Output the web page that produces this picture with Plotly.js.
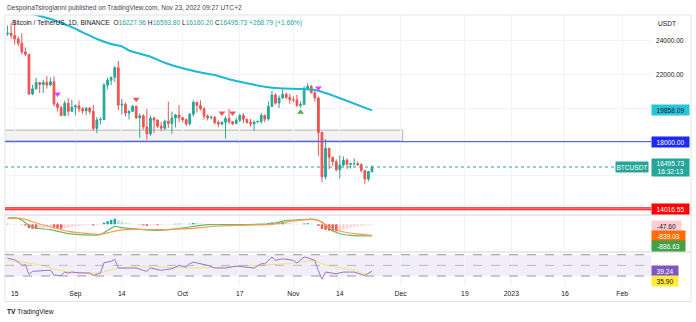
<!DOCTYPE html>
<html><head><meta charset="utf-8">
<script src="https://cdn.plot.ly/plotly-3.0.1.min.js"></script>
<style>html,body{margin:0;padding:0;background:#fff;overflow:hidden}#chart{width:696px;height:322px}</style>
</head><body><div id="chart"></div>
<script>
// ---------- DATA ----------
const dates = ["2022-08-13","2022-08-14","2022-08-15","2022-08-16","2022-08-17","2022-08-18","2022-08-19","2022-08-20","2022-08-21","2022-08-22","2022-08-23","2022-08-24","2022-08-25","2022-08-26","2022-08-27","2022-08-28","2022-08-29","2022-08-30","2022-08-31",
"2022-09-01","2022-09-02","2022-09-03","2022-09-04","2022-09-05","2022-09-06","2022-09-07","2022-09-08","2022-09-09","2022-09-10","2022-09-11","2022-09-12","2022-09-13","2022-09-14","2022-09-15","2022-09-16","2022-09-17","2022-09-18","2022-09-19","2022-09-20","2022-09-21","2022-09-22","2022-09-23","2022-09-24","2022-09-25","2022-09-26","2022-09-27","2022-09-28","2022-09-29","2022-09-30",
"2022-10-01","2022-10-02","2022-10-03","2022-10-04","2022-10-05","2022-10-06","2022-10-07","2022-10-08","2022-10-09","2022-10-10","2022-10-11","2022-10-12","2022-10-13","2022-10-14","2022-10-15","2022-10-16","2022-10-17","2022-10-18","2022-10-19","2022-10-20","2022-10-21","2022-10-22","2022-10-23","2022-10-24","2022-10-25","2022-10-26","2022-10-27","2022-10-28","2022-10-29","2022-10-30","2022-10-31",
"2022-11-01","2022-11-02","2022-11-03","2022-11-04","2022-11-05","2022-11-06","2022-11-07","2022-11-08","2022-11-09","2022-11-10","2022-11-11","2022-11-12","2022-11-13","2022-11-14","2022-11-15","2022-11-16","2022-11-17","2022-11-18","2022-11-19","2022-11-20","2022-11-21","2022-11-22","2022-11-23"];
const openP = [24401,24442,24306,24100,23855,23336,23192,20835,21140,21516,21399,21529,21368,21559,20241,20037,19555,20285,19811,
20050,20131,19951,19831,20000,19797,18790,19292,19319,21361,21648,21826,22396,20173,20226,19701,19803,20113,19416,19537,18875,18461,19401,19289,18920,18802,19222,19079,19412,19591,
19422,19310,19056,19629,20337,20158,19955,19531,19417,19446,19141,19051,19157,19382,19185,19067,19268,19550,19334,19139,19053,19172,19207,19567,19345,20095,20771,20295,20595,20818,20635,
20495,20485,20159,20209,21148,21299,20905,20591,18547,15922,17601,17070,16812,16330,16619,16900,16662,16692,16700,16634,16296,15781,16227.96];
const highP = [24888,25047,25211,24247,24446,23600,23208,21382,21800,21548,21684,21900,21819,21886,20342,20142,20433,20580,20490,
20208,20444,20055,20029,20057,20180,19464,19458,21500,21810,21860,22488,22799,20545,20330,19896,20189,20117,19686,19634,19956,19550,19500,19316,19180,19315,20385,19790,19645,20185,
19484,19395,19719,20475,20365,20456,20055,19627,19560,19525,19268,19214,19513,19951,19226,19424,19676,19706,19360,19346,19250,19249,19695,19601,20400,21020,20877,20750,21085,20938,20840,
20700,20800,20394,21302,21480,21365,21069,20667,18600,18155,17655,17093,16950,17190,17134,17015,16751,17011,16820,16725,16300,16253,16593.80];
const lowP = [24290,24140,23773,23671,23180,23100,20783,20761,21105,20890,20890,21155,21310,20107,19800,19521,19550,19540,19797,
19565,19755,19652,19600,19636,18650,18510,19012,19297,21111,21350,21538,19860,19617,19497,19320,19748,19335,18232,18711,18125,18356,18531,18805,18629,18680,18816,18471,18843,19155,
19159,18920,18959,19490,19730,19854,19320,19255,19320,19021,18860,18965,18190,19070,18975,19063,19160,19097,19070,18900,18650,19133,19068,19157,19240,20063,20200,20000,20552,20518,20250,
20330,20048,20032,20180,21080,20880,20384,17166,15588,15754,16361,16549,16229,15815,16527,16378,16410,16546,16550,16180,15476,15640,16160.20];
const closeP = [24442,24306,24100,23855,23336,23192,20835,21140,21516,21399,21529,21368,21559,20241,20037,19555,20285,19811,20050,
20131,19951,19831,20000,19797,18790,19292,19319,21361,21648,21826,22396,20173,20226,19701,19803,20113,19416,19537,18875,18461,19401,19289,18920,18802,19222,19079,19412,19591,19422,
19310,19056,19629,20337,20158,19955,19531,19417,19446,19141,19051,19157,19382,19185,19067,19268,19550,19334,19139,19053,19172,19207,19567,19345,20095,20771,20295,20595,20818,20635,20495,
20485,20159,20209,21148,21299,20905,20591,18547,15922,17601,17070,16812,16330,16619,16900,16662,16692,16700,16634,16296,15781,16227.96,16495.73];

// moving average line
const maDates = ["2022-08-13","2022-08-20","2022-08-25","2022-08-30","2022-09-03","2022-09-07","2022-09-11","2022-09-14","2022-09-16","2022-09-22","2022-09-26","2022-09-30","2022-10-05","2022-10-10","2022-10-14","2022-10-19","2022-10-24","2022-10-28","2022-11-04","2022-11-08","2022-11-23"];
const maVals = [26050,25588,25291,24892,24500,24102,23805,23668,23419,23050,22694,22420,22159,21963,21707,21470,21268,21173,21131,21030,19858.09];

// signal markers
const sellDates = ["2022-09-18","2022-10-12","2022-10-15"];
const sellVals = [20519,19705,19705];
const buyDates = ["2022-11-03"];
const buyVals = [19747];
const pinkDates = ["2022-08-27","2022-11-08"];
const pinkVals = [20834,21190];

// levels
const zoneLow = 18060, zoneHigh = 18690, zoneEnd = "2022-12-01 14:00";
const level18k = 18000;
const level14k = 14016.55;
const lastPrice = 16495.73;
const countdown = "16:32:13";

// MACD
const macdDates = ["2022-08-13","2022-08-15","2022-08-17","2022-08-19","2022-08-21","2022-08-25","2022-08-30","2022-09-02","2022-09-08","2022-09-10","2022-09-12","2022-09-14","2022-09-19","2022-09-24","2022-09-28","2022-10-03","2022-10-08","2022-10-17","2022-10-26","2022-10-30","2022-11-03","2022-11-07","2022-11-09","2022-11-11","2022-11-14","2022-11-17","2022-11-23"];
const macdVals = [477,500,303,-76,-280,-409,-712,-788,-788,-455,-152,-258,-379,-455,-379,-205,-30,-30,45,303,348,379,174,-333,-712,-833,-886.63];
const signalDates = ["2022-08-13","2022-08-16","2022-08-18","2022-08-21","2022-08-25","2022-08-30","2022-09-03","2022-09-08","2022-09-11","2022-09-14","2022-09-18","2022-09-24","2022-09-28","2022-10-03","2022-10-11","2022-10-17","2022-10-26","2022-10-31","2022-11-06","2022-11-08","2022-11-11","2022-11-14","2022-11-18","2022-11-23"];
const signalVals = [440,470,379,98,-205,-530,-659,-758,-583,-420,-380,-409,-380,-333,-129,-76,0,227,379,290,-205,-508,-712,-839.03];
const histVals = [40,30,25,10,-30,-90,-280,-340,-360,-330,-290,-250,-200,-250,-300,-340,-290,-250,-200,
-160,-130,-100,-70,-50,-90,-70,-30,130,240,330,420,300,200,120,70,40,-10,-30,-80,-120,-80,-70,-70,-60,-40,-30,15,40,50,
45,30,50,100,90,60,30,10,-10,-30,-45,-40,-25,-25,-20,-10,20,15,5,-5,10,20,40,35,90,150,140,145,155,120,90,
60,30,20,60,80,50,20,-120,-350,-420,-480,-520,-540,-470,-380,-300,-240,-190,-150,-115,-100,-70,-47.60];

// RSI
const rsiDates = ["2022-08-13","2022-08-15","2022-08-16","2022-08-17","2022-08-18","2022-08-19","2022-08-20","2022-08-22","2022-08-24","2022-08-25","2022-08-26","2022-08-28","2022-08-29","2022-08-30","2022-08-31","2022-09-02","2022-09-05","2022-09-06","2022-09-08","2022-09-09","2022-09-11","2022-09-12","2022-09-13","2022-09-15","2022-09-16","2022-09-18","2022-09-20","2022-09-21","2022-09-22","2022-09-25","2022-09-28","2022-09-30","2022-10-02","2022-10-03","2022-10-04","2022-10-06","2022-10-08","2022-10-10","2022-10-13","2022-10-16","2022-10-21","2022-10-23","2022-10-24","2022-10-26","2022-10-27","2022-10-29","2022-11-01","2022-11-02","2022-11-04","2022-11-05","2022-11-07","2022-11-08","2022-11-09","2022-11-10","2022-11-12","2022-11-13","2022-11-15","2022-11-18","2022-11-20","2022-11-21","2022-11-23"];
const rsiVals = [63.7,60.5,56,50,51,33,38.7,39.3,40.6,41,31.5,31,37.4,35.6,37.4,36,35.6,31,35.6,55,57.5,61.2,45,45,43.7,45,40.6,38.7,45,40.6,43.7,50,46.8,53,56,53,50,45,45,48.7,45,53,53,65.6,59.4,62.4,59.4,54.3,65.6,64.3,59.4,40,24,37.4,36,34.2,37.4,37.4,33,31,39.24];
const rsiMaDates = ["2022-08-13","2022-08-17","2022-08-22","2022-08-26","2022-08-30","2022-09-03","2022-09-08","2022-09-12","2022-09-17","2022-09-25","2022-10-03","2022-10-12","2022-10-22","2022-10-30","2022-11-03","2022-11-07","2022-11-09","2022-11-13","2022-11-18","2022-11-21","2022-11-23"];
const rsiMaVals = [59.4,56,51,43.6,37.4,35.6,36,43.6,46.8,46.8,45,46.8,50,53,56,59.4,53,46.8,40.6,34.2,35.9];

// axis ticks
const xTickVals = ["2022-08-15","2022-09-01","2022-09-14","2022-10-01","2022-10-17","2022-11-01","2022-11-14","2022-12-01","2022-12-19","2023-01-01","2023-01-16","2023-02-01"];
const xTickText = ["15","Sep","14","Oct","17","Nov","14","Dec","19","2023","16","Feb"];
const yTickVals = [14000,16000,18000,20000,22000,24000];
const yTickText = ["","","","","22000.00","24000.00"];

// ---------- LAYOUT HELPERS (pixel -> paper) ----------
const PL=5, PR=651, PT=15, PB=286;
const px = v => (v-PL)/(PR-PL);
const py = v => (PB-v)/(PB-PT);
const FONT = "Liberation Sans, Arial, sans-serif";
const TXT = "#131722";
const UP="#26a69a", DN="#ef5350";

const histColors = histVals.map((v,i)=>{
  const p = i>0 ? histVals[i-1] : v;
  if (v>=0) return v>=p ? "#26a69a" : "#b2dfdb";
  return v<=p ? "#ff5252" : "#ffcdd2";
});

const traces = [
  {type:"candlestick", x:dates, open:openP, high:highP, low:lowP, close:closeP, xaxis:"x", yaxis:"y",
   increasing:{line:{color:UP,width:1}, fillcolor:UP}, decreasing:{line:{color:DN,width:1}, fillcolor:DN},
   whiskerwidth:0, hoverinfo:"skip"},
  {type:"scatter", mode:"lines", x:maDates, y:maVals, line:{color:"#1cb8d6", width:2, shape:"spline", smoothing:0.6}, yaxis:"y", hoverinfo:"skip"},
  {type:"scatter", mode:"markers", x:sellDates, y:sellVals, marker:{symbol:"triangle-down", size:6, color:"#f7525f"}, yaxis:"y", hoverinfo:"skip"},
  {type:"scatter", mode:"markers", x:buyDates, y:buyVals, marker:{symbol:"triangle-up", size:6, color:"#4caf50"}, yaxis:"y", hoverinfo:"skip"},
  {type:"scatter", mode:"markers", x:pinkDates, y:pinkVals, marker:{symbol:"triangle-down", size:6, color:"#e040fb"}, yaxis:"y", hoverinfo:"skip"},
  {type:"bar", x:dates, y:histVals, marker:{color:histColors, line:{width:0}}, yaxis:"y2", hoverinfo:"skip"},
  {type:"scatter", mode:"lines", x:macdDates, y:macdVals, line:{color:"#66bb6a", width:1.2, shape:"spline", smoothing:0.5}, yaxis:"y2", hoverinfo:"skip"},
  {type:"scatter", mode:"lines", x:signalDates, y:signalVals, line:{color:"#ff9a4d", width:1.2, shape:"spline", smoothing:0.5}, yaxis:"y2", hoverinfo:"skip"},
  {type:"scatter", mode:"lines", x:rsiMaDates, y:rsiMaVals, line:{color:"#f3e26a", width:1, shape:"spline", smoothing:0.5}, yaxis:"y3", hoverinfo:"skip"},
  {type:"scatter", mode:"lines", x:rsiDates, y:rsiVals, line:{color:"#9575cd", width:1}, yaxis:"y3", hoverinfo:"skip"}
];

const shapes = [
  // frame
  {type:"rect", xref:"paper", yref:"paper", x0:0, x1:px(691), y0:py(301.5), y1:1, line:{color:"#e0e3eb", width:1}, layer:"above"},
  {type:"line", xref:"paper", yref:"paper", x0:0, x1:px(691), y0:py(215), y1:py(215), line:{color:"#e0e3eb", width:1.5}},
  {type:"line", xref:"paper", yref:"paper", x0:0, x1:px(691), y0:py(252), y1:py(252), line:{color:"#e0e3eb", width:1.5}},
  // zone
  {type:"rect", xref:"x", yref:"y", x0:"2022-08-01", x1:zoneEnd, y0:zoneLow, y1:zoneHigh, fillcolor:"rgba(200,200,200,0.22)", line:{color:"#c4c4c4", width:1.3}, layer:"below"},
  // levels
  {type:"line", xref:"paper", yref:"y", x0:0, x1:1, y0:level18k, y1:level18k, line:{color:"#5467ee", width:1.2}},
  {type:"line", xref:"paper", yref:"y", x0:0, x1:1, y0:level14k, y1:level14k, line:{color:"#ff1a1a", width:3}},
  {type:"line", xref:"paper", yref:"y", x0:0, x1:1, y0:level14k, y1:level14k, line:{color:"#ff9e9e", width:0.8}},
  {type:"line", xref:"paper", yref:"y", x0:0, x1:px(616), y0:lastPrice, y1:lastPrice, line:{color:"#26a69a", width:1, dash:"dot"}},
  // RSI band
  {type:"rect", xref:"paper", yref:"y3", x0:0, x1:1, y0:30, y1:70, fillcolor:"rgba(126,87,194,0.1)", line:{width:0}, layer:"below"},
  {type:"line", xref:"paper", yref:"y3", x0:0, x1:1, y0:70, y1:70, line:{color:"#9598a1", width:1, dash:"dash"}},
  {type:"line", xref:"paper", yref:"y3", x0:0, x1:1, y0:50, y1:50, line:{color:"rgba(149,152,161,0.6)", width:1, dash:"dash"}},
  {type:"line", xref:"paper", yref:"y3", x0:0, x1:1, y0:30, y1:30, line:{color:"#9598a1", width:1, dash:"dash"}}
];

function box(text, yref, y, bg, fg, w, h){
  return {text:text, xref:"paper", x:1, xanchor:"left", yref:yref, y:y, yanchor:"middle",
    showarrow:false, bgcolor:bg, font:{family:FONT, size:6.6, color:fg}, width:w, height:h, borderpad:0, align:"center"};
}
const annotations = [
  {text:"DespoinaTsiroglanni published on TradingView.com, Nov 23, 2022 09:27 UTC+2", xref:"paper", yref:"paper", x:0, y:py(8), xanchor:"left", yanchor:"middle", showarrow:false, font:{family:FONT, size:6.6, color:"#434651"}},
  {text:'Bitcoin / TetherUS, 1D, BINANCE&nbsp; O<span style="color:#26a69a">16227.96</span> H<span style="color:#26a69a">16593.80</span> L<span style="color:#26a69a">16160.20</span> C<span style="color:#26a69a">16495.73</span> <span style="color:#26a69a">+268.79 (+1.66%)</span>',
   xref:"paper", yref:"paper", x:px(10), y:py(23), xanchor:"left", yanchor:"middle", showarrow:false, font:{family:FONT, size:6.6, color:TXT}},
  {text:"USDT", xref:"paper", yref:"paper", x:px(656), y:py(23), xanchor:"left", yanchor:"middle", showarrow:false, font:{family:FONT, size:6.6, color:TXT}},
  {text:"<b>TV</b> TradingView", xref:"paper", yref:"paper", x:0, y:py(312), xanchor:"left", yanchor:"middle", showarrow:false, font:{family:FONT, size:6.6, color:"#131722"}},
  box("19858.09","y",maVals[maVals.length-1],"#26c6da",TXT,37,10),
  box("18000.00","y",level18k,"#1e2bf5","#ffffff",37,10),
  box(lastPrice.toFixed(2)+"<br>"+countdown,"y",lastPrice,"#26a69a","#ffffff",37,17),
  box("14016.55","y",level14k,"#ff0000","#ffffff",37,10),
  {text:"BTCUSDT", xref:"paper", x:px(649), xanchor:"right", yref:"y", y:lastPrice, yanchor:"middle", showarrow:false, bgcolor:"#26a69a", font:{family:FONT, size:6.6, color:"#fff"}, width:32, height:10, borderpad:0},
  box(histVals[histVals.length-1].toFixed(2),"paper",py(225.7),"#ffcdd2",TXT,29,10),
  box(signalVals[signalVals.length-1].toFixed(2),"paper",py(235.7),"#ff6d00","#ffffff",33,10),
  box(macdVals[macdVals.length-1].toFixed(2),"paper",py(245.7),"#43a047","#ffffff",33,10),
  box(rsiVals[rsiVals.length-1].toFixed(2),"paper",py(270.7),"#7e57c2","#ffffff",26,10),
  box(rsiMaVals[rsiMaVals.length-1].toFixed(2),"paper",py(281),"#ffeb3b",TXT,26,10)
];

const layout = {
  width:696, height:322, margin:{l:PL, r:696-PR, t:PT, b:322-PB, pad:0},
  paper_bgcolor:"#ffffff", plot_bgcolor:"#ffffff", showlegend:false, bargap:0.3,
  font:{family:FONT, size:6.6, color:TXT},
  xaxis:{type:"date", anchor:"y3", domain:[0,1], range:["2022-08-12 07:00","2023-02-09 02:00"],
    tickmode:"array", tickvals:xTickVals, ticktext:xTickText, showgrid:true, gridcolor:"#f0f3fa", gridwidth:1,
    zeroline:false, showline:false, ticks:"", ticklabelstandoff:2, tickfont:{family:FONT, size:6.8, color:TXT}, rangeslider:{visible:false}, fixedrange:true},
  yaxis:{domain:[py(215),1], range:[13645,25528], side:"right", tickmode:"array", tickvals:yTickVals, ticktext:yTickText,
    showgrid:true, gridcolor:"#f0f3fa", zeroline:false, showline:false, ticks:"", ticklabelstandoff:4, tickfont:{family:FONT, size:6.6, color:TXT}, fixedrange:true},
  yaxis2:{domain:[py(252),py(215)], range:[-2098,705], side:"right", showgrid:false, zeroline:false, showticklabels:false, ticks:"", anchor:"x", fixedrange:true},
  yaxis3:{domain:[0,py(252)], range:[11.2,75.1], side:"right", showgrid:false, zeroline:false, showticklabels:false, ticks:"", anchor:"x", fixedrange:true},
  shapes:shapes, annotations:annotations
};

Plotly.newPlot("chart", traces, layout, {displayModeBar:false, staticPlot:true});
</script>
</body></html>
